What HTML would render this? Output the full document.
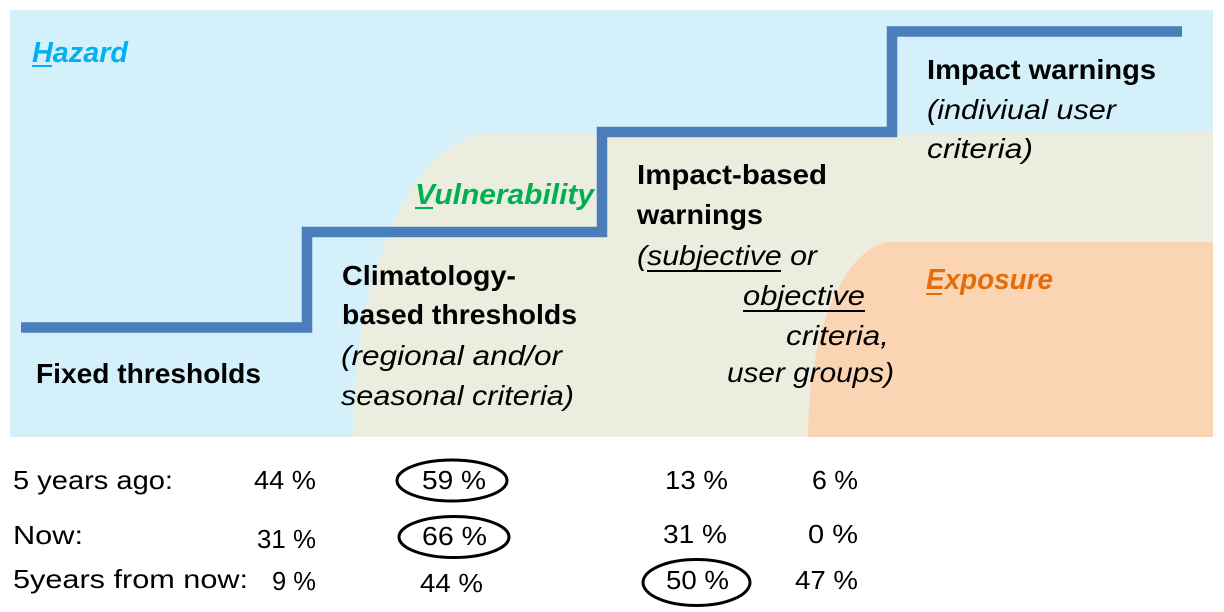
<!DOCTYPE html>
<html>
<head>
<meta charset="utf-8">
<style>
  html, body { margin:0; padding:0; background:#ffffff; }
  body { width:1224px; height:612px; overflow:hidden; }
  svg { display:block; }
  text { font-family: "Liberation Sans", Arial, sans-serif; }
  .b { font-weight:bold; font-size:28px; fill:#000; }
  .i { font-style:italic; font-size:28px; fill:#000; }
  .t { font-size:26px; fill:#000; }
</style>
</head>
<body>
<svg width="1224" height="612" viewBox="0 0 1224 612" xmlns="http://www.w3.org/2000/svg">
  <!-- backgrounds -->
  <rect x="10" y="10" width="1203" height="427" fill="#d4f0fa"/>
  <path d="M 353 437 A 137 302 0 0 1 490 134 L 1213 132 L 1213 437 Z" fill="#ebeedf"/>
  <path d="M 808 437 A 85 195 0 0 1 893 242 L 1213 242 L 1213 437 Z" fill="#fbd4b4"/>

  <!-- step line -->
  <polyline points="21,327.5 307,327.5 307,232 602,232 602,132 892,132 892,31.5 1182,31.5"
            fill="none" stroke="#4a7ebb" stroke-width="10.5" stroke-linejoin="miter" stroke-linecap="butt"/>

  <!-- category labels -->
  <text x="32" y="62" font-weight="bold" font-style="italic" font-size="29" fill="#00b0f0" textLength="96" lengthAdjust="spacingAndGlyphs">Hazard</text>
  <line x1="32" y1="66" x2="52" y2="66" stroke="#00b0f0" stroke-width="2"/>

  <text x="415" y="204" font-weight="bold" font-style="italic" font-size="29" fill="#00b050" textLength="179" lengthAdjust="spacingAndGlyphs">Vulnerability</text>
  <line x1="415" y1="208" x2="433" y2="208" stroke="#00b050" stroke-width="2"/>

  <text x="926" y="289" font-weight="bold" font-style="italic" font-size="29" fill="#e46c0a" textLength="127" lengthAdjust="spacingAndGlyphs">Exposure</text>
  <line x1="926" y1="294" x2="942" y2="294" stroke="#e46c0a" stroke-width="2"/>

  <!-- step labels -->
  <text class="b" x="36" y="383" textLength="225" lengthAdjust="spacingAndGlyphs">Fixed thresholds</text>

  <text class="b" x="342" y="285" textLength="174" lengthAdjust="spacingAndGlyphs">Climatology-</text>
  <text class="b" x="342" y="324" textLength="235" lengthAdjust="spacingAndGlyphs">based thresholds</text>
  <text class="i" x="341" y="365" textLength="221" lengthAdjust="spacingAndGlyphs">(regional and/or</text>
  <text class="i" x="341" y="405" textLength="233" lengthAdjust="spacingAndGlyphs">seasonal criteria)</text>

  <text class="b" x="637" y="184" textLength="190" lengthAdjust="spacingAndGlyphs">Impact-based</text>
  <text class="b" x="637" y="224" textLength="126" lengthAdjust="spacingAndGlyphs">warnings</text>
  <text class="i" x="637" y="265" textLength="180" lengthAdjust="spacingAndGlyphs">(subjective or</text>
  <line x1="647" y1="271" x2="781" y2="271" stroke="#000" stroke-width="2"/>
  <text class="i" x="743" y="305" textLength="122" lengthAdjust="spacingAndGlyphs">objective</text>
  <line x1="743" y1="311" x2="865" y2="311" stroke="#000" stroke-width="2"/>
  <text class="i" x="786" y="345" textLength="103" lengthAdjust="spacingAndGlyphs">criteria,</text>
  <text class="i" x="727" y="382" textLength="167" lengthAdjust="spacingAndGlyphs">user groups)</text>

  <text class="b" x="927" y="79" textLength="229" lengthAdjust="spacingAndGlyphs">Impact warnings</text>
  <text class="i" x="927" y="119" textLength="189" lengthAdjust="spacingAndGlyphs">(indiviual user</text>
  <text class="i" x="927" y="158" textLength="106" lengthAdjust="spacingAndGlyphs">criteria)</text>

  <!-- table -->
  <text class="t" x="13" y="489" textLength="160" lengthAdjust="spacingAndGlyphs">5 years ago:</text>
  <text class="t" x="254" y="489" textLength="62" lengthAdjust="spacingAndGlyphs">44 %</text>
  <ellipse cx="452" cy="480.5" rx="55" ry="20.5" fill="none" stroke="#000" stroke-width="3"/>
  <text class="t" x="422" y="489" textLength="64" lengthAdjust="spacingAndGlyphs">59 %</text>
  <text class="t" x="665" y="489" textLength="63" lengthAdjust="spacingAndGlyphs">13 %</text>
  <text class="t" x="812" y="489" textLength="46" lengthAdjust="spacingAndGlyphs">6 %</text>

  <text class="t" x="13" y="544" textLength="70" lengthAdjust="spacingAndGlyphs">Now:</text>
  <text class="t" x="257" y="548" textLength="59" lengthAdjust="spacingAndGlyphs">31 %</text>
  <ellipse cx="454" cy="537" rx="55" ry="20.5" fill="none" stroke="#000" stroke-width="3"/>
  <text class="t" x="422" y="545" textLength="65" lengthAdjust="spacingAndGlyphs">66 %</text>
  <text class="t" x="663" y="543" textLength="64" lengthAdjust="spacingAndGlyphs">31 %</text>
  <text class="t" x="808" y="543" textLength="50" lengthAdjust="spacingAndGlyphs">0 %</text>

  <text class="t" x="13" y="588" textLength="235" lengthAdjust="spacingAndGlyphs">5years from now:</text>
  <text class="t" x="272" y="590" textLength="44" lengthAdjust="spacingAndGlyphs">9 %</text>
  <text class="t" x="420" y="592" textLength="63" lengthAdjust="spacingAndGlyphs">44 %</text>
  <ellipse cx="696.5" cy="582.5" rx="53.5" ry="23" fill="none" stroke="#000" stroke-width="3"/>
  <text class="t" x="666" y="589" textLength="63" lengthAdjust="spacingAndGlyphs">50 %</text>
  <text class="t" x="795" y="589" textLength="63" lengthAdjust="spacingAndGlyphs">47 %</text>
</svg>
</body>
</html>
